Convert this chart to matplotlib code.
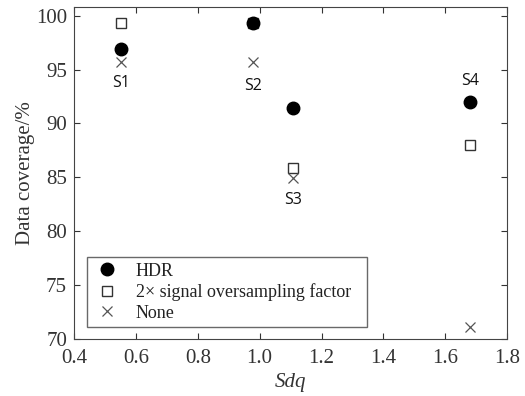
import matplotlib.pyplot as plt

# Sdq of the four samples and data coverage (%) per method
samples = ['S1', 'S2', 'S3', 'S4']
sdq = [0.552, 0.979, 1.109, 1.681]
hdr = [96.9, 99.35, 91.45, 92.0]
oversampling = [99.3, 99.35, 85.9, 88.0]
none = [95.75, 95.7, 84.9, 71.1]
label_y = [93.8, 93.5, 82.9, 93.9]

plt.rcParams['font.family'] = ['Liberation Serif', 'DejaVu Serif']

fig = plt.figure(figsize=(5.25, 3.96), dpi=100)
fig.patch.set_facecolor('white')
ax = fig.add_axes([0.141, 0.144, 0.825, 0.838])

ax.plot(sdq, oversampling, ls='none', marker='s', ms=7, mfc='white',
        mec='#333333', mew=1.0, label=u'2\u00d7 signal oversampling factor', zorder=3)
ax.plot(sdq, hdr, ls='none', marker='o', ms=9, color='black', label='HDR', zorder=4)
ax.plot(sdq, none, ls='none', marker='x', ms=7, color='#555555', mew=0.9,
        label='None', zorder=3)

for name, x, y in zip(samples, sdq, label_y):
    ax.text(x, y, name, ha='center', va='center', fontsize=11.5,
            family=['Open Sans', 'DejaVu Sans'], color='#111111')

ax.set_xlim(0.4, 1.8)
ax.set_ylim(70, 100.8)
ax.set_xticks([0.4, 0.6, 0.8, 1.0, 1.2, 1.4, 1.6, 1.8])
ax.set_yticks([70, 75, 80, 85, 90, 95, 100])
ax.tick_params(direction='in', top=True, right=True, labelsize=15,
               colors='#333333', length=4)
ax.tick_params(axis='x', pad=7)
ax.tick_params(axis='y', pad=5)
for s in ax.spines.values():
    s.set_color('#444444')

ax.set_xlabel('Sdq', fontsize=15, style='italic', color='#333333', labelpad=4)
ax.set_ylabel('Data coverage/%', fontsize=15, color='#333333', labelpad=1)

handles, labels = ax.get_legend_handles_labels()
order = [1, 0, 2]
leg = ax.legend([handles[i] for i in order], [labels[i] for i in order],
                loc='lower left', bbox_to_anchor=(0.03, 0.036, 0.647, 0.211),
                mode='expand', borderaxespad=0, fontsize=13, frameon=True,
                fancybox=False, edgecolor='#444444', labelspacing=0.2,
                handlelength=1.6, handletextpad=0.8, borderpad=0.3)
leg.get_frame().set_linewidth(1.0)
for t in leg.get_texts():
    t.set_color('#222222')

plt.savefig('out.png', dpi=100, transparent=False)
